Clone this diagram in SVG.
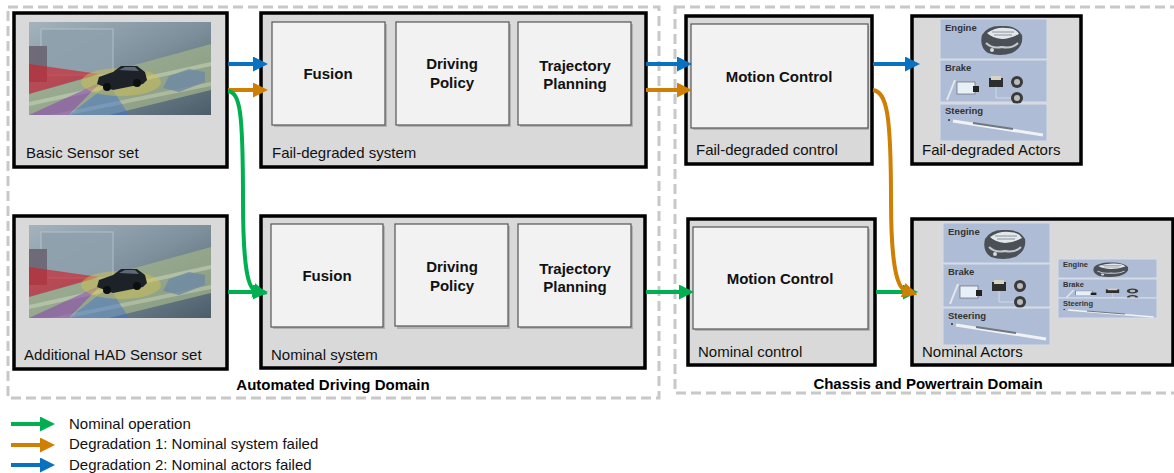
<svg xmlns="http://www.w3.org/2000/svg" width="1174" height="473" viewBox="0 0 1174 473">
<style>
  .domain{fill:none;stroke:#c8c8c8;stroke-width:3;stroke-dasharray:10 5}
  .outer{fill:#d9d9d9;stroke:#000;stroke-width:3.5}
  .inner{fill:#f2f2f2;stroke:#555;stroke-width:1.2}
  .shadow{fill:#9a9a9a;opacity:0.6}
  .lbl{font-family:"Liberation Sans",Arial,sans-serif;font-size:15px;fill:#111}
  .bold{font-family:"Liberation Sans",Arial,sans-serif;font-size:15px;font-weight:bold;fill:#111}
  .dom{font-family:"Liberation Sans",Arial,sans-serif;font-size:15px;font-weight:bold;fill:#000}
  .plbl{font-family:"Liberation Sans",Arial,sans-serif;font-size:9.5px;font-weight:bold;fill:#333}
  .plbls{font-family:"Liberation Sans",Arial,sans-serif;font-size:7.5px;font-weight:bold;fill:#333}
  .panel{fill:#aebcd6;stroke:#d6dde9;stroke-width:1}
  .blue{fill:none;stroke:#0a70c0;stroke-width:4}
  .orange{fill:none;stroke:#cf7f04;stroke-width:4}
  .green{fill:none;stroke:#00b050;stroke-width:4}
</style>
<defs>
  <marker id="mb" viewBox="0 0 15 15" refX="3" refY="7.5" markerWidth="15" markerHeight="15" markerUnits="userSpaceOnUse" orient="auto"><path d="M0,0 L15,7.5 L0,15 z" fill="#0a70c0"/></marker>
  <marker id="mo" viewBox="0 0 15 15" refX="3" refY="7.5" markerWidth="15" markerHeight="15" markerUnits="userSpaceOnUse" orient="auto"><path d="M0,0 L15,7.5 L0,15 z" fill="#cf7f04"/></marker>
  <marker id="mg" viewBox="0 0 15 15" refX="3" refY="7.5" markerWidth="15" markerHeight="15" markerUnits="userSpaceOnUse" orient="auto"><path d="M0,0 L15,7.5 L0,15 z" fill="#00b050"/></marker>
  <linearGradient id="sky" x1="0" y1="0" x2="1" y2="1">
    <stop offset="0" stop-color="#a4b3bd"/>
    <stop offset="0.5" stop-color="#7d909c"/>
    <stop offset="1" stop-color="#4a5d68"/>
  </linearGradient>
  <clipPath id="sceneclip"><rect x="0" y="0" width="182" height="93"/></clipPath>
  <g id="scene">
    <g clip-path="url(#sceneclip)">
      <rect x="0" y="0" width="182" height="93" fill="url(#sky)"/>
      <polygon points="0,72 182,22 182,68 80,93 0,93" fill="#9fb08a" opacity="0.75"/>
      <polygon points="0,80 182,40 182,44 0,84" fill="#c7d3b8" opacity="0.6"/>
      <polygon points="20,93 182,60 182,64 40,93" fill="#c7d3b8" opacity="0.5"/>
      <rect x="12" y="7" width="72" height="46" fill="#8ea1ad" stroke="#b5c3cc" stroke-width="1" opacity="0.9"/>
      <rect x="0" y="24" width="18" height="36" fill="#6f6a78"/>
      <polygon points="70,52 0,42 0,72" fill="#d0202a" opacity="0.65"/>
      <polygon points="72,60 0,93 40,93" fill="#8b3fb0" opacity="0.55"/>
      <polygon points="80,62 40,93 100,93" fill="#3b6fd0" opacity="0.45"/>
      <ellipse cx="92" cy="60" rx="40" ry="14" fill="#d8c44a" opacity="0.45"/>
      <path d="M68,62 L70,55 L84,50 L92,44 L108,44 L116,50 L118,58 L114,62 L84,68 Z" fill="#1c2228"/>
      <path d="M90,48 L96,45 L106,45 L110,49 Z" fill="#5d6a75"/>
      <circle cx="78" cy="65" r="4" fill="#0c0f12"/>
      <circle cx="108" cy="61" r="4" fill="#0c0f12"/>
      <path d="M134,66 L140,54 L160,47 L176,50 L176,60 L150,70 Z" fill="#6d8aa6" opacity="0.8"/>
    </g>
  </g>
  <g id="engine">
    <path d="M0,12 Q6,2 20,3 Q34,2 40,12 Q42,24 30,30 Q18,34 6,30 Q-3,24 0,12 Z" fill="#4a5056"/>
    <path d="M5,10 Q14,4 24,5 Q34,5 37,11 Q28,16 20,16 Q10,15 5,10 Z" fill="#e3e7ea"/>
    <path d="M10,9 L32,9 M12,12 L30,12" stroke="#8a929a" stroke-width="1"/>
    <path d="M4,20 Q10,26 20,24 Q30,26 36,20" stroke="#c2c8ce" stroke-width="2" fill="none"/>
    <circle cx="10" cy="27" r="2" fill="#d5d9dd"/>
  </g>
  <g id="brake">
    <path d="M0,28 L8,8" stroke="#e4e8ee" stroke-width="2"/>
    <rect x="10" y="10" width="18" height="12" fill="#e8f0f7" stroke="#556" stroke-width="0.6"/>
    <rect x="26" y="14" width="6" height="6" fill="#222"/>
    <rect x="42" y="6" width="14" height="9" fill="#2e2e2e"/>
    <rect x="44" y="4" width="10" height="4" fill="#d9d3c4"/>
    <circle cx="70" cy="10" r="6" fill="#3a3a3a"/><circle cx="70" cy="10" r="3" fill="#bbb"/>
    <circle cx="70" cy="26" r="6" fill="#3a3a3a"/><circle cx="70" cy="26" r="3" fill="#bbb"/>
    <path d="M49,15 V26 H64" stroke="#dfe5ee" stroke-width="0.7" fill="none"/>
  </g>
  <g id="steer">
    <path d="M0,0 L90,14" stroke="#f0f2f5" stroke-width="3"/>
    <path d="M20,2 L60,8" stroke="#6f7780" stroke-width="2"/>
    <circle cx="-4" cy="-1" r="1" fill="#333"/>
  </g>
</defs>

<!-- domains -->
<g id="automated-driving-domain">
  <rect class="domain" x="8" y="7" width="651" height="391"/>
  <text class="dom" x="333" y="390" text-anchor="middle">Automated Driving Domain</text>
</g>
<g id="chassis-domain">
  <rect class="domain" x="675" y="7" width="510" height="386"/>
  <text class="dom" x="928" y="389" text-anchor="middle">Chassis and Powertrain Domain</text>
</g>

<!-- top row -->
<g id="basic-sensor-set">
  <rect class="outer" x="14" y="13" width="213" height="154"/>
  <use href="#scene" x="29" y="22"/>
  <text class="lbl" x="26" y="158">Basic Sensor set</text>
</g>
<g id="fail-degraded-system">
  <rect class="outer" x="261" y="13" width="385" height="154"/>
  <rect class="shadow" x="274" y="24" width="113" height="103"/>
  <rect class="inner" x="272" y="22" width="113" height="103"/>
  <text class="bold" x="328" y="79" text-anchor="middle">Fusion</text>
  <rect class="shadow" x="398" y="24" width="113" height="103"/>
  <rect class="inner" x="396" y="22" width="113" height="103"/>
  <text class="bold" x="452" y="69" text-anchor="middle">Driving</text>
  <text class="bold" x="452" y="88" text-anchor="middle">Policy</text>
  <rect class="shadow" x="520" y="24" width="113" height="103"/>
  <rect class="inner" x="518" y="22" width="113" height="103"/>
  <text class="bold" x="575" y="71" text-anchor="middle">Trajectory</text>
  <text class="bold" x="575" y="89" text-anchor="middle">Planning</text>
  <text class="lbl" x="272" y="158">Fail-degraded system</text>
</g>
<g id="fail-degraded-control">
  <rect class="outer" x="686" y="16" width="186" height="148"/>
  <rect class="shadow" x="693" y="26" width="176" height="104"/>
  <rect class="inner" x="691" y="24" width="177" height="104"/>
  <text class="bold" x="779" y="82" text-anchor="middle">Motion Control</text>
  <text class="lbl" x="696" y="155">Fail-degraded control</text>
</g>
<g id="fail-degraded-actors">
  <rect class="outer" x="912" y="16" width="169" height="148"/>
  <rect class="panel" x="940" y="19" width="107" height="40"/>
  <text class="plbl" x="945" y="31">Engine</text>
  <use href="#engine" x="982" y="23"/>
  <rect class="panel" x="940" y="60" width="107" height="42"/>
  <text class="plbl" x="945" y="71">Brake</text>
  <use href="#brake" x="947" y="72"/>
  <rect class="panel" x="940" y="104" width="107" height="37"/>
  <text class="plbl" x="945" y="114">Steering</text>
  <use href="#steer" x="953" y="121"/>
  <text class="lbl" x="922" y="155">Fail-degraded Actors</text>
</g>

<!-- bottom row -->
<g id="additional-had-sensor-set">
  <rect class="outer" x="14" y="216" width="213" height="153"/>
  <use href="#scene" x="29" y="225"/>
  <text class="lbl" x="24" y="360">Additional HAD Sensor set</text>
</g>
<g id="nominal-system">
  <rect class="outer" x="261" y="216" width="384" height="152"/>
  <rect class="shadow" x="273" y="226" width="112" height="103"/>
  <rect class="inner" x="271" y="224" width="112" height="103"/>
  <text class="bold" x="327" y="281" text-anchor="middle">Fusion</text>
  <rect class="shadow" x="397" y="226" width="113" height="103"/>
  <rect class="inner" x="395" y="224" width="113" height="102"/>
  <text class="bold" x="452" y="272" text-anchor="middle">Driving</text>
  <text class="bold" x="452" y="291" text-anchor="middle">Policy</text>
  <rect class="shadow" x="520" y="226" width="113" height="103"/>
  <rect class="inner" x="518" y="224" width="113" height="103"/>
  <text class="bold" x="575" y="274" text-anchor="middle">Trajectory</text>
  <text class="bold" x="575" y="292" text-anchor="middle">Planning</text>
  <text class="lbl" x="271" y="360">Nominal system</text>
</g>
<g id="nominal-control">
  <rect class="outer" x="688" y="219" width="187" height="146"/>
  <rect class="shadow" x="695" y="229" width="175" height="102"/>
  <rect class="inner" x="693" y="227" width="175" height="102"/>
  <text class="bold" x="780" y="284" text-anchor="middle">Motion Control</text>
  <text class="lbl" x="698" y="357">Nominal control</text>
</g>
<g id="nominal-actors">
  <rect class="outer" x="912" y="219" width="261" height="146"/>
  <rect class="panel" x="943" y="223" width="107" height="40"/>
  <text class="plbl" x="948" y="235">Engine</text>
  <use href="#engine" x="985" y="227"/>
  <rect class="panel" x="943" y="264" width="107" height="43"/>
  <text class="plbl" x="948" y="275">Brake</text>
  <use href="#brake" x="950" y="276"/>
  <rect class="panel" x="943" y="308" width="107" height="37"/>
  <text class="plbl" x="948" y="319">Steering</text>
  <use href="#steer" x="956" y="325"/>
  <rect class="panel" x="1058" y="259" width="99" height="19"/>
  <text class="plbls" x="1063" y="267">Engine</text>
  <use href="#engine" transform="translate(1094,261) scale(0.85,0.5)"/>
  <rect class="panel" x="1058" y="279" width="99" height="19"/>
  <text class="plbls" x="1063" y="287">Brake</text>
  <use href="#brake" transform="translate(1066,287) scale(0.95,0.4)"/>
  <rect class="panel" x="1058" y="298" width="99" height="20"/>
  <text class="plbls" x="1063" y="306">Steering</text>
  <use href="#steer" transform="translate(1068,310) scale(0.95,0.5)"/>
  <text class="lbl" x="922" y="357">Nominal Actors</text>
</g>

<!-- connectors -->
<g id="connectors">
  <path class="blue" d="M228,64 H256" marker-end="url(#mb)"/>
  <path class="orange" d="M228,90 H256" marker-end="url(#mo)"/>
  <path class="green" d="M228,91 C240,93 243,110 243,200 C243,268 248,289 256,291" marker-end="url(#mg)"/>
  <path class="green" d="M228,292 H256" marker-end="url(#mg)"/>
  <path class="blue" d="M646,64 H680" marker-end="url(#mb)"/>
  <path class="orange" d="M646,90 H680" marker-end="url(#mo)"/>
  <path class="green" d="M646,292 H682" marker-end="url(#mg)"/>
  <path class="blue" d="M873,64 H908" marker-end="url(#mb)"/>
  <path class="green" d="M876,292 H906" marker-end="url(#mg)"/>
  <path class="orange" d="M873,90 C887,92 891,115 891,200 C891,266 897,288 906,291" marker-end="url(#mo)"/>
</g>

<!-- legend -->
<g id="legend">
  <path class="green" d="M11,424 H43" marker-end="url(#mg)"/>
  <text class="lbl" x="69" y="429">Nominal operation</text>
  <path class="orange" d="M11,445 H43" marker-end="url(#mo)"/>
  <text class="lbl" x="69" y="449">Degradation 1: Nominal system failed</text>
  <path class="blue" d="M11,465 H43" marker-end="url(#mb)"/>
  <text class="lbl" x="69" y="470">Degradation 2: Nominal actors failed</text>
</g>
</svg>
